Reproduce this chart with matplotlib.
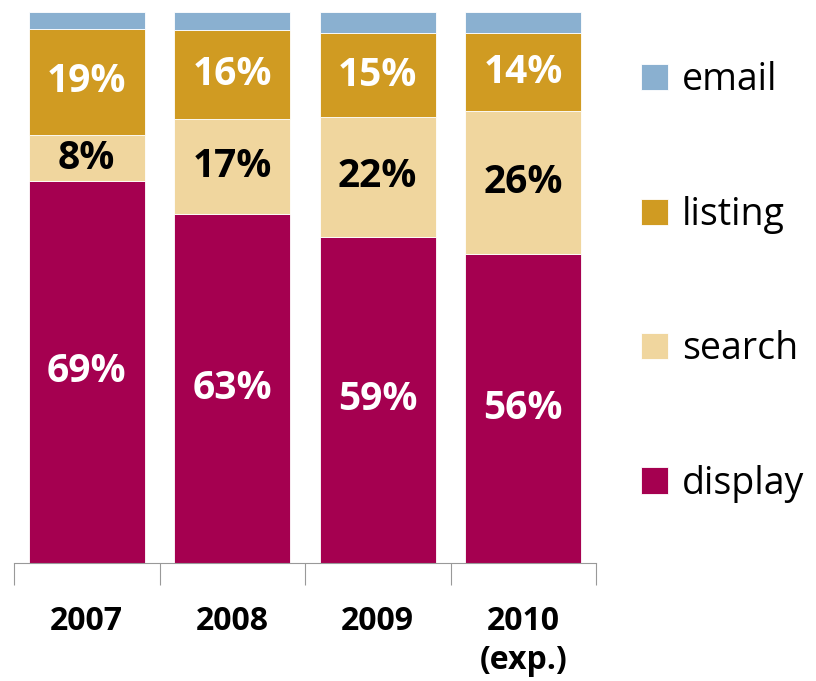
import matplotlib.pyplot as plt
import numpy as np

years = ["2007", "2008", "2009", "2010\n(exp.)"]
display = [69.4, 63.4, 59.2, 56.1]
search = [8.2, 17.2, 21.8, 26.0]
listing = [19.4, 16.2, 15.1, 14.0]
email = [3.0, 3.2, 3.9, 3.9]

series = [
    ("display", display, "#A50050", "white"),
    ("search", search, "#F0D69E", "black"),
    ("listing", listing, "#D09B22", "white"),
    ("email", email, "#8AB0D0", None),
]

plt.rcParams["font.family"] = ["Open Sans", "DejaVu Sans"]

fig = plt.figure(figsize=(8.16, 6.81), dpi=100)
ax = fig.add_axes([14 / 816, 118 / 681, 582 / 816, 551 / 681])

x = np.arange(len(years))
bottom = np.zeros(len(years))
handles = []
for name, vals, color, txt in series:
    vals = np.array(vals)
    b = ax.bar(x, vals, width=0.8, bottom=bottom, color=color,
               edgecolor="white", linewidth=0.6, label=name)
    handles.append(b)
    if txt is not None:
        for xi, v, b0 in zip(x, vals, bottom):
            ax.text(xi, b0 + v / 2, f"{v:.0f}%", ha="center", va="center",
                    color=txt, fontsize=28, fontweight="bold")
    bottom += vals

ax.set_xlim(-0.5, len(years) - 0.5)
ax.set_ylim(0, 100)
ax.set_yticks([])
for s in ["left", "right", "top"]:
    ax.spines[s].set_visible(False)
ax.spines["bottom"].set_color("#999999")

ax.set_xticks(np.arange(len(years) + 1) - 0.5)
ax.set_xticklabels([])
ax.tick_params(axis="x", which="major", length=16, color="#999999", direction="out")
ax.set_xticks(x, minor=True)
ax.set_xticklabels(years, minor=True, fontsize=23, fontweight="bold",
                   linespacing=1.25)
ax.tick_params(axis="x", which="minor", length=0, pad=30)

ax.legend(handles[::-1], [s[0] for s in series][::-1], loc="center left",
          bbox_to_anchor=(1.02, 0.51), frameon=False, fontsize=27,
          handlelength=0.7, handleheight=0.7, handletextpad=0.38,
          labelspacing=2.57)

fig.savefig("out.png", dpi=100)
